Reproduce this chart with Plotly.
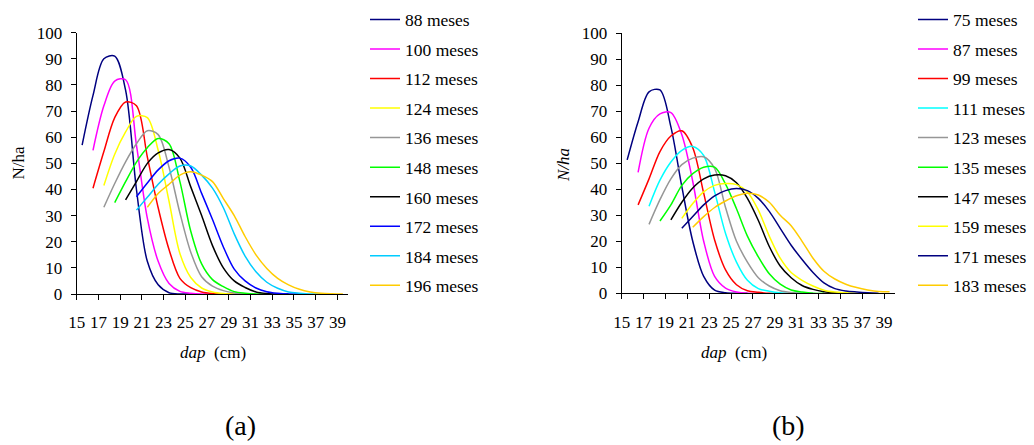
import plotly.graph_objects as go

# Diameter classes (cm) and stand-table curves, N/ha per class
classes = [15.5 + i for i in range(25)]

# (a) projected diameter distributions, first class of each curve and N/ha values
ages_a = ["88 meses", "100 meses", "112 meses", "124 meses", "136 meses",
          "148 meses", "160 meses", "172 meses", "184 meses", "196 meses"]
first_a = [15.5, 16.5, 16.5, 17.5, 17.5, 18.5, 19.5, 20.5, 20.5, 21.5]
n88 = [57, 76, 90, 91, 78, 40, 12.5, 3.5, 0.5, 0, 0]
n100 = [55, 72, 81.5, 82, 57, 29, 12.5, 4, 1, 0.3, 0, 0]
n112 = [40.5, 54.5, 67.5, 73.5, 72, 52.5, 33, 17, 6, 2.4, 0.8, 0.2, 0, 0]
n124 = [41.5, 53.5, 62, 68, 67.5, 55, 35.5, 15.5, 6.3, 2.3, 0.8, 0.2, 0, 0]
n136 = [33.2, 42.3, 50.6, 57.5, 62.5, 61, 48.5, 31, 16, 6.6, 3, 1.3, 0.4, 0, 0]
n148 = [35, 43, 50.5, 56, 59.5, 57.5, 43, 24, 11.5, 5.5, 2.8, 0.9, 0.3, 0, 0]
n160 = [36, 43, 50, 54, 55.3, 52, 41, 30, 18.5, 10, 5, 2.5, 0.8, 0.2, 0, 0]
n172 = [37.2, 42.5, 47.5, 51, 52, 48.5, 38.5, 28.5, 18, 9.5, 5, 2.3, 0.9, 0.3, 0, 0]
n184 = [32.1, 37, 42, 46, 49, 49, 45.5, 40.5, 33, 23, 14.5, 8.5, 4.5, 2.2, 0.8, 0.3, 0, 0]
n196 = [33.2, 38.5, 42, 45.5, 46.8, 45.5, 43, 36.5, 30, 22, 15, 9.8, 6, 3.5, 1.8, 0.8, 0.3, 0.1, 0]
series_a = [n88, n100, n112, n124, n136, n148, n160, n172, n184, n196]
colors_a = ["#000080", "#FF00FF", "#FF0000", "#FFFF00", "#969696",
            "#00FF00", "#000000", "#0000FF", "#00CCFF", "#FFCC00"]

# (b)
ages_b = ["75 meses", "87 meses", "99 meses", "111 meses", "123 meses",
          "135 meses", "147 meses", "159 meses", "171 meses", "183 meses"]
first_b = [15.5, 16.5, 16.5, 17.5, 17.5, 18.5, 19.5, 20.5, 20.5, 21.5]
n75 = [51.3, 66, 77.5, 78.2, 64, 41, 20, 6.5, 1.2, 0.2, 0, 0]
n87 = [46.5, 63.5, 69, 69.5, 61, 43, 20, 6.5, 2, 0.5, 0, 0]
n99 = [34, 44, 54.5, 60.5, 62.5, 56, 38.5, 20.5, 9, 3.3, 1, 0.4, 0, 0]
n111 = [33.5, 43.5, 50.5, 55, 56.5, 53, 39, 23, 12, 5, 1.8, 0.8, 0.2, 0, 0]
n123 = [26.5, 36, 44, 49.5, 52, 52.5, 48, 33, 20, 12, 6, 2.8, 1, 0.3, 0, 0]
n135 = [27.8, 34, 41.5, 46, 48.5, 48.5, 42, 32.5, 22, 14, 7.5, 3.5, 1.3, 0.5, 0, 0]
n147 = [28.2, 35, 40.5, 44, 45.5, 45.2, 42.5, 36.5, 28, 18, 10.5, 6, 3, 1.5, 0.6, 0.2, 0]
n159 = [28.8, 34.5, 39, 41.5, 42.2, 41.8, 39, 32, 22, 13.5, 8, 5, 2.8, 1.2, 0.5, 0.2, 0]
n171 = [25, 29.5, 34, 37.5, 39.5, 40.3, 39.5, 36.5, 31.5, 25, 18.5, 13, 8, 4, 1.8, 0.9, 0.5, 0.2, 0]
n183 = [25.4, 29.5, 33, 35.5, 37.5, 38.5, 37.8, 35, 30, 26, 20, 13.5, 8.5, 5.5, 3.5, 2.2, 1.3, 0.7, 0.6]
series_b = [n75, n87, n99, n111, n123, n135, n147, n159, n171, n183]
colors_b = ["#000080", "#FF00FF", "#FF0000", "#00FFFF", "#969696",
            "#00FF00", "#000000", "#FFFF00", "#000080", "#FFCC00"]

x_ticks = list(range(15, 40, 2))
y_ticks = list(range(0, 101, 10))

W, H = 1034, 445
SERIF = "Times New Roman, Liberation Serif, serif"

fig = go.Figure()


def add_panel(names, starts, values, colors, xaxis, yaxis, legend):
    for k, (name, start, vals, col) in enumerate(zip(names, starts, values, colors)):
        i0 = classes.index(start)
        fig.add_trace(go.Scatter(
            x=classes[i0:i0 + len(vals)], y=vals, name=name, mode="lines",
            line=dict(color=col, width=1.5, shape="spline", smoothing=0.9),
            xaxis=xaxis, yaxis=yaxis, legend=legend,
            legendgroup=f"{legend}-{k}", showlegend=True,
        ))


add_panel(ages_a, first_a, series_a, colors_a, "x", "y", "legend")
add_panel(ages_b, first_b, series_b, colors_b, "x2", "y2", "legend2")

axis_common = dict(
    showline=True, linecolor="black", linewidth=1, showgrid=False, zeroline=False,
    ticks="outside", ticklen=5, tickwidth=1, tickcolor="black", automargin=False,
    tickfont=dict(family=SERIF, size=17, color="black"),
)

legend_font = dict(family=SERIF, size=17.5, color="black")

fig.update_layout(
    width=W, height=H, margin=dict(l=0, r=0, t=0, b=0, autoexpand=False),
    paper_bgcolor="white", plot_bgcolor="white",
    font=dict(family=SERIF, size=17, color="black"),
    xaxis=dict(domain=[76.7 / W, 348.3 / W], range=[15, 40], tickvals=x_ticks,
               ticklabelstandoff=8, anchor="y", **axis_common),
    yaxis=dict(domain=[1 - 294 / H, 1 - 32.7 / H], range=[0, 100], tickvals=y_ticks,
               ticklabelstandoff=5, anchor="x", **axis_common),
    xaxis2=dict(domain=[621.7 / W, 895 / W], range=[15, 40], tickvals=x_ticks,
                ticklabelstandoff=8, anchor="y2", **axis_common),
    yaxis2=dict(domain=[1 - 293.3 / H, 1 - 33.3 / H], range=[0, 100], tickvals=y_ticks,
                ticklabelstandoff=5, anchor="x2", **axis_common),
    legend=dict(x=365 / W, y=1 - 1.5 / H, xanchor="left", yanchor="top",
                bgcolor="rgba(0,0,0,0)", font=legend_font, tracegroupgap=3.8,
                itemwidth=30),
    legend2=dict(x=913 / W, y=1 - 1.5 / H, xanchor="left", yanchor="top",
                 bgcolor="rgba(0,0,0,0)", font=legend_font, tracegroupgap=3.8,
                 itemwidth=30),
    showlegend=True,
)

annotations = [
    dict(text="N/ha", x=17.5 / W, y=1 - 163 / H, textangle=-90),
    dict(text="<i>N/ha</i>", x=563 / W, y=1 - 165 / H, textangle=-90),
    dict(text="<i>dap</i>  (cm)", x=212.5 / W, y=1 - 352 / H),
    dict(text="<i>dap</i>  (cm)", x=734 / W, y=1 - 352 / H),
    dict(text="(a)", x=240 / W, y=1 - 425 / H, font=dict(family=SERIF, size=28, color="black")),
    dict(text="(b)", x=788 / W, y=1 - 425 / H, font=dict(family=SERIF, size=28, color="black")),
]
for a in annotations:
    fig.add_annotation(xref="paper", yref="paper", showarrow=False,
                       xanchor="center", yanchor="middle",
                       font=a.pop("font", dict(family=SERIF, size=17, color="black")), **a)

fig.write_html("out.html")
